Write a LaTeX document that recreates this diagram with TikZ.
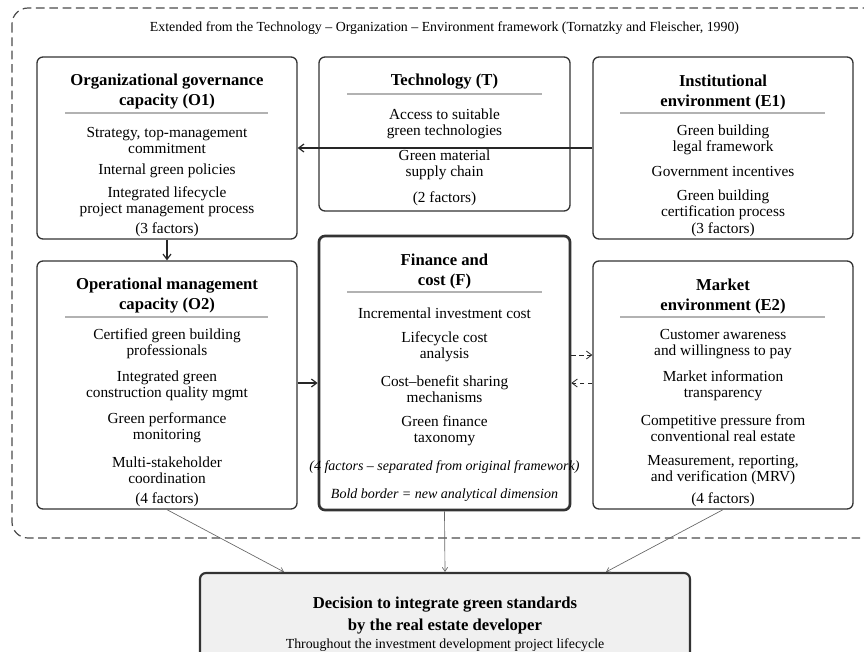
\documentclass[tikz,border=0pt]{standalone}
\usepackage{fontspec}
\setmainfont{Liberation Serif}
\usetikzlibrary{arrows.meta}
\tikzset{
  box/.style={draw=black!80, line width=1pt, rounded corners=4.5pt, inner sep=0pt},
  boldbox/.style={box, line width=2pt},
  ttl/.style={font=\fontsize{12.5}{15}\selectfont\bfseries, align=center, inner sep=1pt},
  itm/.style={font=\fontsize{11.5}{12}\selectfont, align=center, inner sep=1pt},
  note/.style={font=\fontsize{10.5}{12}\selectfont\itshape, align=center, inner sep=1pt},
  sep/.style={draw=black!30, line width=1pt},
  link/.style={draw=black!85, line width=0.9pt, -{Straight Barb[length=4pt,width=6pt]}},
  dlink/.style={link, line width=0.6pt, dash pattern=on 3.5pt off 2.5pt},
  flow/.style={draw=black!60, line width=0.5pt, -{Straight Barb[length=3pt,width=4pt]}}
}
\begin{document}
\begin{tikzpicture}[x=0.75pt,y=-0.75pt]
\useasboundingbox (0,0) rectangle (864,651);
\clip (0,0) rectangle (864,651);

% outer frame
\draw[black!70, line width=0.9pt, dash pattern=on 6.5pt off 3.5pt, rounded corners=12pt]
  (12,8) rectangle (890,538);
\node[font=\fontsize{10.4}{12}\selectfont] (head) at (444.5,28)
  {Extended from the Technology -- Organization -- Environment framework (Tornatzky and Fleischer, 1990)};

% boxes
\node[box, minimum width=195pt, minimum height=136.5pt] (O1) at (167,148) {};
\node[box, minimum width=188.25pt, minimum height=115.5pt] (T) at (444.5,134) {};
\node[box, minimum width=195pt, minimum height=136.5pt] (E1) at (723,148) {};
\node[box, minimum width=195pt, minimum height=186pt] (O2) at (167,385) {};
\node[boldbox, minimum width=188.25pt, minimum height=205.5pt] (F) at (444.5,373) {};
\node[box, minimum width=195pt, minimum height=186pt] (E2) at (723,385) {};
\node[boldbox, line width=1.6pt, fill=black!6, minimum width=367.5pt, minimum height=69pt] (D) at (445,619) {};

% connectors
\coordinate (m1) at (0,355);
\coordinate (m2) at (0,383);
\draw[link] (E1.west) -- (O1.east);
\draw[link] (O1.south) -- (O2.north);
\draw[link] (O2.east |- m2) -- (F.west |- m2);
\draw[dlink] (F.east |- m1) -- (E2.west |- m1);
\draw[dlink] (E2.west |- m2) -- (F.east |- m2);
\draw[flow] (O2.south) -- ([xshift=-120.75pt]D.north);
\draw[flow] (F.south) -- (D.north);
\draw[flow] (E2.south) -- ([xshift=120.75pt]D.north);

% O1
\node[ttl] (O1t) at (167,92) {Organizational governance\\capacity (O1)};
\draw[sep] (65,113) -- (268,113);
\node[itm] (O1a) at (167,140) {Strategy, top-management\\commitment};
\node[itm] (O1b) at (167,171) {Internal green policies};
\node[itm] (O1c) at (167,202) {Integrated lifecycle\\project management process};
\node[itm] (O1n) at (167,230) {(3 factors)};

% T
\node[ttl] (Tt) at (444.5,82) {Technology (T)};
\draw[sep] (347,94) -- (542,94);
\node[itm] (Ta) at (444.5,124) {Access to suitable\\green technologies};
\node[itm, fill=white, inner xsep=6pt] (Tb) at (444.5,165) {Green material\\supply chain};
\node[itm] (Tn) at (444.5,199) {(2 factors)};

% E1
\node[ttl] (E1t) at (723,92) {Institutional\\environment (E1)};
\draw[sep] (620,113) -- (825,113);
\node[itm] (E1a) at (723,140) {Green building\\legal framework};
\node[itm] (E1b) at (723,171) {Government incentives};
\node[itm] (E1c) at (723,205) {Green building\\certification process};
\node[itm] (E1n) at (723,230) {(3 factors)};

% O2
\node[ttl] (O2t) at (167,296) {Operational management\\capacity (O2)};
\draw[sep] (65,317) -- (268,317);
\node[itm] (O2a) at (167,344) {Certified green building\\professionals};
\node[itm] (O2b) at (167,386) {Integrated green\\construction quality mgmt};
\node[itm] (O2c) at (167,428) {Green performance\\monitoring};
\node[itm] (O2d) at (167,470) {Multi-stakeholder\\coordination};
\node[itm] (O2n) at (167,500) {(4 factors)};

% F
\node[ttl] (Ft) at (444.5,271) {Finance and\\cost (F)};
\draw[sep] (347,292) -- (542,292);
\node[itm] (Fa) at (444.5,313) {Incremental investment cost};
\node[itm] (Fb) at (444.5,347) {Lifecycle cost\\analysis};
\node[itm] (Fc) at (444.5,389) {Cost--benefit sharing\\mechanisms};
\node[itm] (Fd) at (444.5,431) {Green finance\\taxonomy};
\node[note] (Fn) at (444.5,467) {(4 factors -- separated from original framework)};
\node[note] (Fk) at (444.5,495) {Bold border = new analytical dimension};

% E2
\node[ttl] (E2t) at (723,296) {Market\\environment (E2)};
\draw[sep] (620,317) -- (825,317);
\node[itm] (E2a) at (723,344) {Customer awareness\\and willingness to pay};
\node[itm] (E2b) at (723,386) {Market information\\transparency};
\node[itm] (E2c) at (723,428) {Competitive pressure from\\conventional real estate};
\node[itm] (E2d) at (723,470) {Measurement, reporting,\\and verification (MRV)};
\node[itm] (E2n) at (723,500) {(4 factors)};

% decision
\node[font=\fontsize{12.5}{16.5}\selectfont\bfseries, align=center] (Dt) at (445,616)
  {Decision to integrate green standards\\by the real estate developer};
\node[font=\fontsize{10.4}{12}\selectfont] (Ds) at (445,645)
  {Throughout the investment development project lifecycle};
\end{tikzpicture}
\end{document}
